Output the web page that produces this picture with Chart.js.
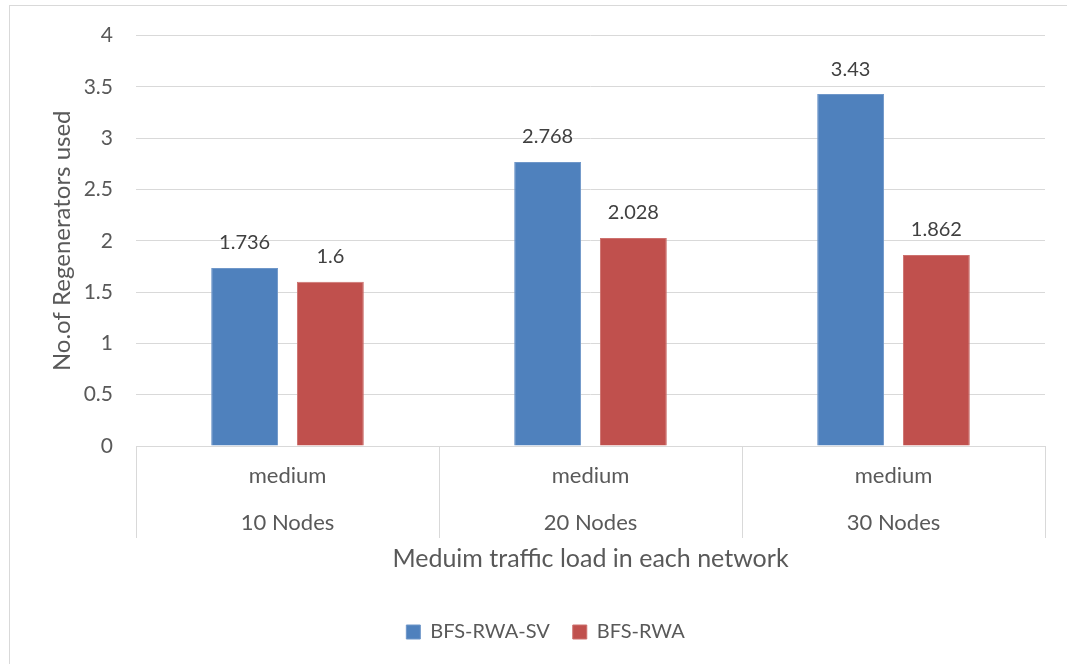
<!DOCTYPE html>
<html>
<head>
<meta charset="utf-8">
<script src="https://cdn.jsdelivr.net/npm/chart.js@4/dist/chart.umd.min.js"></script>
<style>
  html, body { margin: 0; padding: 0; background: #fff; overflow: hidden; }
  #frame { position: absolute; left: 9px; top: 5px; width: 1200px; height: 800px; border: 1px solid #d9d9d9; box-sizing: border-box; }
  #c { position: absolute; left: 0; top: 0; }
</style>
</head>
<body>
<div id="frame"></div>
<canvas id="c" width="1067" height="664"></canvas>
<script>
const categoryTop = ["medium", "medium", "medium"];
const categoryBottom = ["10 Nodes", "20 Nodes", "30 Nodes"];
const seriesNames = ["BFS-RWA-SV", "BFS-RWA"];
const bfsRwaSv = [1.736, 2.768, 3.43];
const bfsRwa = [1.6, 2.028, 1.862];
const seriesColors = ["#4f81bd", "#c0504d"];
const yTitle = "No.of Regenerators used";
const xTitle = "Meduim traffic load in each network";

const FONT = "Lato, 'Open Sans', 'DejaVu Sans', sans-serif";
const labels = categoryTop.map((t, i) => [t, categoryBottom[i]]);

const valueLabels = {
  id: 'valueLabels',
  afterDatasetsDraw(chart) {
    const ctx = chart.ctx;
    ctx.save();
    ctx.font = "20px " + FONT;
    ctx.fillStyle = "#404040";
    ctx.textAlign = "center";
    ctx.textBaseline = "middle";
    chart.data.datasets.forEach((ds, di) => {
      const meta = chart.getDatasetMeta(di);
      meta.data.forEach((bar, i) => {
        ctx.fillText(String(ds.data[i]), bar.x, bar.y - 25);
      });
    });
    ctx.restore();
  }
};

const legendShift = {
  id: 'legendShift',
  afterLayout(chart) {
    if (chart.legend) { chart.legend.left += 23; chart.legend.right += 23; }
  }
};

new Chart(document.getElementById('c'), {
  type: 'bar',
  data: {
    labels: labels,
    datasets: [
      { label: seriesNames[0], data: bfsRwaSv, backgroundColor: seriesColors[0], borderColor: "#6f97c9", borderWidth: 1 },
      { label: seriesNames[1], data: bfsRwa, backgroundColor: seriesColors[1], borderColor: "#cd716e", borderWidth: 1 }
    ]
  },
  options: {
    responsive: false,
    animation: false,
    categoryPercentage: 0.566,
    barPercentage: 0.78,
    layout: { padding: { top: 31, right: 22, bottom: 12, left: 0 } },
    plugins: {
      legend: {
        position: 'bottom',
        labels: {
          boxWidth: 14, boxHeight: 14, padding: 23,
          color: "#595959",
          font: { family: FONT, size: 20 }
        }
      },
      tooltip: { enabled: false }
    },
    scales: {
      x: {
        offset: true,
        grid: { offset: true, drawOnChartArea: false, drawTicks: true, tickLength: 92, tickColor: "#d9d9d9", lineWidth: 1 },
        border: { display: true, color: "#d9d9d9", width: 1 },
        ticks: { color: "#595959", font: { family: FONT, size: 22, lineHeight: 2.136 }, padding: -86, maxRotation: 0, autoSkip: false },
        title: { display: true, text: xTitle, color: "#595959", font: { family: FONT, size: 25 }, padding: { top: 0, bottom: 25 } },
        afterFit(scale) { scale.height = 153; }
      },
      y: {
        min: 0, max: 4,
        grid: { color: "#d9d9d9", drawTicks: false },
        border: { display: false },
        ticks: { stepSize: 0.5, color: "#595959", font: { family: FONT, size: 21 }, padding: 23, callback: (v) => String(Number(v)) },
        title: { display: true, text: yTitle, color: "#595959", font: { family: FONT, size: 24 }, padding: { top: 48, bottom: 0 } },
        afterFit(scale) { scale.width = 136; }
      }
    }
  },
  plugins: [valueLabels, legendShift]
});
</script>
</body>
</html>
